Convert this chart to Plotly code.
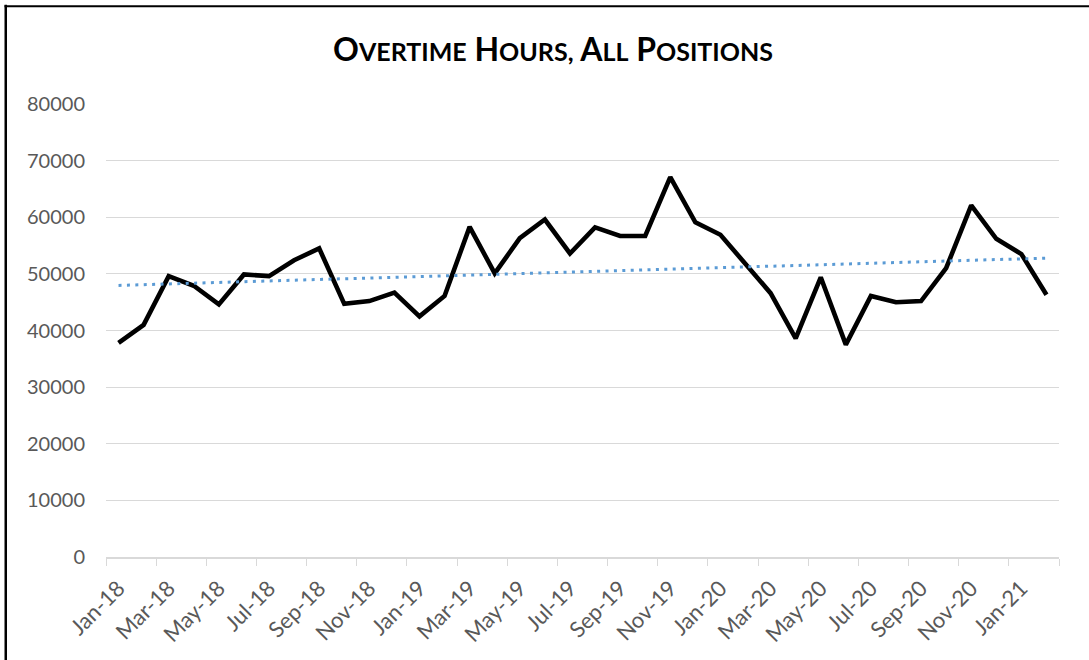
import numpy as np
import plotly.graph_objects as go

months = ["Jan-18", "Feb-18", "Mar-18", "Apr-18", "May-18", "Jun-18", "Jul-18", "Aug-18",
          "Sep-18", "Oct-18", "Nov-18", "Dec-18", "Jan-19", "Feb-19", "Mar-19", "Apr-19",
          "May-19", "Jun-19", "Jul-19", "Aug-19", "Sep-19", "Oct-19", "Nov-19", "Dec-19",
          "Jan-20", "Feb-20", "Mar-20", "Apr-20", "May-20", "Jun-20", "Jul-20", "Aug-20",
          "Sep-20", "Oct-20", "Nov-20", "Dec-20", "Jan-21", "Feb-21"]
overtime_hours = [37800, 41000, 49600, 47900, 44600, 49900, 49600, 52400,
                  54500, 44700, 45200, 46700, 42500, 46100, 58300, 50100,
                  56300, 59600, 53600, 58200, 56700, 56700, 67100, 59100,
                  56900, 51700, 46600, 38600, 49400, 37500, 46100, 45000,
                  45200, 51000, 62100, 56200, 53500, 46300]
y_ticks = [0, 10000, 20000, 30000, 40000, 50000, 60000, 70000, 80000]
y_tick_labels = [str(v) for v in y_ticks]

# linear trendline (least squares, as in the spreadsheet trendline)
idx = np.arange(len(overtime_hours))
slope, intercept = np.polyfit(idx, overtime_hours, 1)
trend = (slope * idx + intercept).tolist()

W, H = 1089, 660
ML, MR, MT, MB = 106, 29.5, 103.5, 102.7
pw = W - ML - MR
ph = H - MT - MB

fig = go.Figure()
fig.add_trace(go.Scatter(
    x=months, y=overtime_hours, mode="lines",
    line=dict(color="#000000", width=4.6), name="Overtime hours",
    showlegend=False))
fig.add_trace(go.Scatter(
    x=months, y=trend, mode="lines",
    line=dict(color="#5B9BD5", width=3, dash="3px,5.4px"), name="Linear trend",
    showlegend=False))

def sc(txt):
    # small caps: first letter of each word large, rest smaller
    out = []
    for w in txt.split(" "):
        out.append(w[0] + "<span style='font-size:25px'>" + w[1:] + "</span>")
    return " ".join(out)

title_txt = sc("OVERTIME HOURS,") + " " + sc("ALL POSITIONS")

fig.update_layout(
    width=W, height=H,
    margin=dict(l=ML, r=MR, t=MT, b=MB, pad=0, autoexpand=False),
    paper_bgcolor="white", plot_bgcolor="white",
    title=dict(text="<b>" + title_txt + "</b>", x=553 / W, xanchor="center",
               xref="container", y=1 - 50 / H, yanchor="middle", yref="container",
               font=dict(family="Lato", size=32, color="#000000")),
    font=dict(family="Lato", color="#595959"),
    xaxis=dict(type="category", tickmode="linear", tick0=0, dtick=2,
               tickson="boundaries", ticks="outside", ticklen=7, tickwidth=1.3,
               tickcolor="#d9d9d9", showgrid=False, showline=True,
               linecolor="#d9d9d9", linewidth=1.5, tickangle=-45,
               ticklabelstandoff=8,
               tickfont=dict(family="Lato", size=22, color="#595959"),
               range=[-0.5, len(months) - 0.5], automargin=False),
    yaxis=dict(range=[0, 80000], tickvals=y_ticks, ticktext=y_tick_labels,
               showgrid=True, gridcolor="#d9d9d9", gridwidth=1.3, zeroline=False,
               showline=False, ticks="", ticklabelstandoff=20, automargin=False,
               tickfont=dict(family="Lato", size=20, color="#595959")),
)

# outer chart border (left and top edges visible in the frame)
fig.add_shape(type="line", xref="paper", yref="paper",
              x0=(5.7 - ML) / pw, x1=(5.7 - ML) / pw,
              y0=(H - MB - 4) / ph, y1=-(MB + 5) / ph,
              line=dict(color="#000000", width=2.5))
fig.add_shape(type="line", xref="paper", yref="paper",
              x0=(4.5 - ML) / pw, x1=(W + 5 - ML) / pw,
              y0=(H - MB - 5.5) / ph, y1=(H - MB - 5.5) / ph,
              line=dict(color="#000000", width=2))

fig.write_html("out.html", config={"displayModeBar": False},
               post_script="document.body.style.margin='0';"
                           "document.documentElement.style.overflow='hidden';")
